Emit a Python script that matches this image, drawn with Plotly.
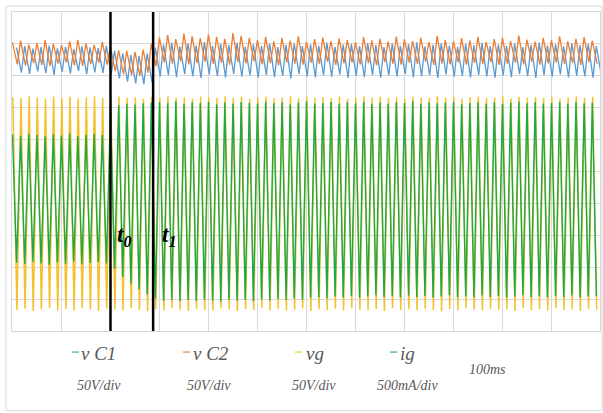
import plotly.graph_objects as go

# ---- data (screen divisions, 10 vertical divs; time in ms, 100 ms/div) ----
period_ms = 1000.0 / 60.0           # 60 Hz line
t0_ms, t1_ms = 201, 288             # event markers

vg_top = [7.33,7.30,7.36,7.32,7.28,7.35,7.31,7.34,7.29,7.33,7.36,7.30,
          7.32,7.35,7.30,7.33,7.28,7.34,7.31,7.36,7.30,7.33,7.29,7.35,
          7.32,7.30,7.36,7.31,7.34,7.28,7.33,7.35,7.30,7.32,7.36,7.29,
          7.34,7.31,7.33,7.30,7.35,7.28,7.32,7.36,7.31,7.34,7.30,7.33,
          7.29,7.35,7.32,7.30,7.36,7.31,7.34,7.28,7.33,7.35,7.30,7.32,
          7.36,7.29,7.34,7.31,7.33,7.30,7.35,7.28,7.32,7.36,7.31,7.34]
vg_bot = [0.66,0.70,0.63,0.68,0.72,0.65,0.69,0.64,0.71,0.67,0.63,0.70,
          0.68,0.64,0.71,0.66,0.62,0.69,0.65,0.72,0.67,0.63,0.70,0.66,
          0.64,0.71,0.68,0.63,0.69,0.66,0.72,0.65,0.70,0.64,0.67,0.71,
          0.63,0.68,0.66,0.70,0.64,0.72,0.67,0.65,0.69,0.63,0.71,0.66,
          0.68,0.64,0.70,0.66,0.62,0.69,0.65,0.71,0.67,0.64,0.70,0.66,
          0.68,0.63,0.71,0.65,0.69,0.64,0.72,0.66,0.68,0.63,0.70,0.67]

ig_top = [6.16,6.12,6.18,6.14,6.10,6.17,6.13,6.19,6.11,6.15,6.18,6.14,
          6.85,7.08,7.12,7.10,7.14,7.16,
          7.18,7.14,7.20,7.12,7.17,7.15,7.19,7.11,7.16,7.13,7.18,7.15,
          7.12,7.19,7.14,7.17,7.11,7.16,7.20,7.13,7.15,7.18,7.12,7.17,
          7.14,7.19,7.11,7.16,7.13,7.18,7.15,7.20,7.12,7.17,7.14,7.16,
          7.19,7.11,7.15,7.18,7.13,7.17,7.12,7.16,7.19,7.14,7.18,7.13,
          7.15,7.17,7.12,7.19,7.14,7.16]
ig_bot = [2.14,2.10,2.17,2.12,2.08,2.15,2.11,2.18,2.09,2.13,2.16,2.12,
          1.95,1.70,1.48,1.30,1.15,1.02,
          0.95,0.98,0.93,0.97,0.94,0.99,0.96,0.92,0.98,0.95,0.97,0.93,
          0.99,0.96,1.00,0.97,1.02,0.98,1.04,1.06,1.02,1.08,1.05,1.10,
          1.04,1.08,1.12,1.06,1.09,1.05,1.11,1.07,1.10,1.04,1.08,1.12,
          1.06,1.09,1.05,1.11,1.07,1.10,1.04,1.08,1.12,1.06,1.09,1.05,
          1.10,1.07,1.11,1.05,1.08,1.09]

vc2_top = [9.05,9.10,8.98,9.02,9.12,9.00,8.96,9.08,9.13,9.01,8.97,9.06,
           8.90,8.80,8.78,8.75,8.82,9.00,
           9.20,9.28,9.15,9.32,9.24,9.18,9.30,9.22,9.16,9.34,9.25,9.19,
           9.12,9.22,9.08,9.18,9.10,9.24,9.06,9.15,9.20,9.09,9.17,9.12,
           9.05,9.21,9.11,9.16,9.07,9.23,9.14,9.09,9.19,9.06,9.25,9.12,
           9.08,9.18,9.10,9.22,9.06,9.15,9.20,9.09,9.26,9.13,9.07,9.19,
           9.11,9.24,9.08,9.16,9.21,9.10]
vc2_bot = [8.36,8.32,8.40,8.34,8.30,8.38,8.42,8.33,8.31,8.37,8.41,8.35,
           8.15,8.05,8.02,8.00,8.10,8.30,
           8.42,8.38,8.45,8.36,8.40,8.44,8.37,8.41,8.35,8.43,8.39,8.46,
           8.36,8.40,8.33,8.42,8.38,8.35,8.41,8.37,8.44,8.34,8.39,8.42,
           8.36,8.40,8.33,8.43,8.38,8.35,8.41,8.37,8.44,8.34,8.39,8.36,
           8.42,8.35,8.40,8.37,8.43,8.34,8.38,8.41,8.36,8.44,8.35,8.39,
           8.42,8.37,8.40,8.34,8.43,8.38]

vc1_top = [8.88,8.93,8.85,8.90,8.95,8.86,8.91,8.84,8.92,8.89,8.87,8.94,
           8.78,8.70,8.65,8.62,8.70,8.88,
           8.98,9.04,8.92,9.02,8.95,9.06,8.93,9.00,8.96,9.03,8.91,8.99,
           8.94,9.01,8.90,8.97,9.02,8.93,8.99,8.95,9.04,8.91,8.98,9.00,
           8.93,9.03,8.96,8.90,9.01,8.94,8.99,9.05,8.92,8.97,9.02,8.95,
           8.91,9.00,8.96,9.03,8.93,8.98,8.94,9.01,8.90,8.97,9.04,8.95,
           8.99,8.92,9.02,8.96,9.00,8.93]
vc1_bot = [8.10,8.06,8.14,8.08,8.03,8.12,8.07,8.15,8.05,8.11,8.09,8.04,
           7.92,7.82,7.76,7.74,7.80,7.98,
           8.02,7.96,8.05,7.98,7.93,8.04,7.99,7.95,8.06,7.97,8.01,7.94,
           8.03,7.96,8.00,7.92,8.05,7.98,7.95,8.02,7.97,8.04,7.93,8.00,
           7.96,8.03,7.94,8.01,7.98,8.05,7.95,7.99,8.02,7.93,8.04,7.97,
           8.00,7.95,8.03,7.98,7.94,8.01,7.96,8.05,7.99,7.93,8.02,7.97,
           8.04,7.95,8.00,7.98,7.94,8.03]

names = ["v C1", "v C2", "vg", "ig"]
scales = ["50V/div", "50V/div", "50V/div", "500mA/div"]
time_label = "100ms"


def wave(tops, bots, peak_phase, trough_phase):
    xs, ys = [], []
    for i, (a, b) in enumerate(zip(tops, bots)):
        xs += [(i + peak_phase) * period_ms, (i + trough_phase) * period_ms]
        ys += [a, b]
    return xs, ys


colors = {"v C1": "#5B9BD5", "v C2": "#ED7D31", "vg": "#F5C02A", "ig": "#1EA84A"}
key_colors = {"v C1": "#4fa3b8", "v C2": "#d9894a", "vg": "#e8cf3a", "ig": "#3aa88c"}

fig = go.Figure()
specs = [("v C1", vc1_top, vc1_bot, 0.55, 1.15, 1.3),
         ("v C2", vc2_top, vc2_bot, 0.05, 0.65, 1.3),
         ("vg", vg_top, vg_bot, 0.10, 0.60, 1.5),
         ("ig", ig_top, ig_bot, 0.06, 0.56, 1.4)]
for name, tops, bots, p1, p2, w in specs:
    xs, ys = wave(tops, bots, p1, p2)
    fig.add_trace(go.Scatter(x=xs, y=ys, mode="lines", name=name,
                             line=dict(color=colors[name], width=w),
                             showlegend=False, hoverinfo="skip"))

grid = "#d9d9d9"
fig.update_xaxes(range=[0, 1200], dtick=100, tick0=0, showgrid=True, gridcolor=grid,
                 gridwidth=1, showticklabels=False, zeroline=False, showline=True,
                 mirror=True, linecolor=grid, ticks="")
fig.update_yaxes(range=[0, 10], dtick=1, tick0=0, showgrid=True, gridcolor=grid,
                 gridwidth=1, showticklabels=False, zeroline=False, showline=True,
                 mirror=True, linecolor=grid, ticks="")

shapes = []
for tm in (t0_ms, t1_ms):
    shapes.append(dict(type="line", xref="x", yref="paper", x0=tm, x1=tm, y0=0, y1=1,
                       line=dict(color="black", width=2.5), layer="above"))
shapes.append(dict(type="rect", xref="paper", yref="paper", x0=-0.0102, x1=1.0034,
                   y0=-0.25, y1=1.0188, line=dict(color="#d9d9d9", width=1)))

anns = []
serif = "Liberation Serif, Times New Roman, serif"
for tm, sub, dx in ((t0_ms, "0", 14), (t1_ms, "1", 16)):
    anns.append(dict(x=tm, y=0.298, xref="x", yref="paper", xshift=dx,
                     xanchor="center", yanchor="middle",
                     text=f"<b><i>t<sub>{sub}</sub></i></b>", showarrow=False,
                     font=dict(family=serif, size=23, color="black")))

key_x = [(0.102, 0.114), (0.291, 0.303), (0.481, 0.493), (0.643, 0.655)]
leg_x = [0.147, 0.338, 0.515, 0.673]
sc_x = [0.148, 0.335, 0.514, 0.672]
for name, (k0, k1), lx, sx, sc in zip(names, key_x, leg_x, sc_x, scales):
    shapes.append(dict(type="line", xref="paper", yref="paper", x0=k0, x1=k1,
                       y0=-0.066, y1=-0.066, line=dict(color=key_colors[name], width=1.2)))
    anns.append(dict(x=lx, y=-0.069, xref="paper", yref="paper", showarrow=False,
                     xanchor="center", yanchor="middle",
                     text=f"<i>{name}</i>",
                     font=dict(family=serif, size=19, color="#595959")))
    anns.append(dict(x=sx, y=-0.172, xref="paper", yref="paper", showarrow=False,
                     xanchor="center", yanchor="middle",
                     text=f"<i>{sc}</i>", font=dict(family=serif, size=14, color="#595959")))
anns.append(dict(x=0.808, y=-0.122, xref="paper", yref="paper", showarrow=False,
                 xanchor="center", yanchor="middle",
                 text=f"<i>{time_label}</i>", font=dict(family=serif, size=14, color="#595959")))

fig.update_layout(width=603, height=413, margin=dict(l=12, r=3, t=12, b=82),
                  paper_bgcolor="white", plot_bgcolor="white",
                  shapes=shapes, annotations=anns, showlegend=False)

fig.write_html("out.html", config={"displayModeBar": False},
               post_script="document.body.style.margin='0';document.body.style.overflow='hidden';")
